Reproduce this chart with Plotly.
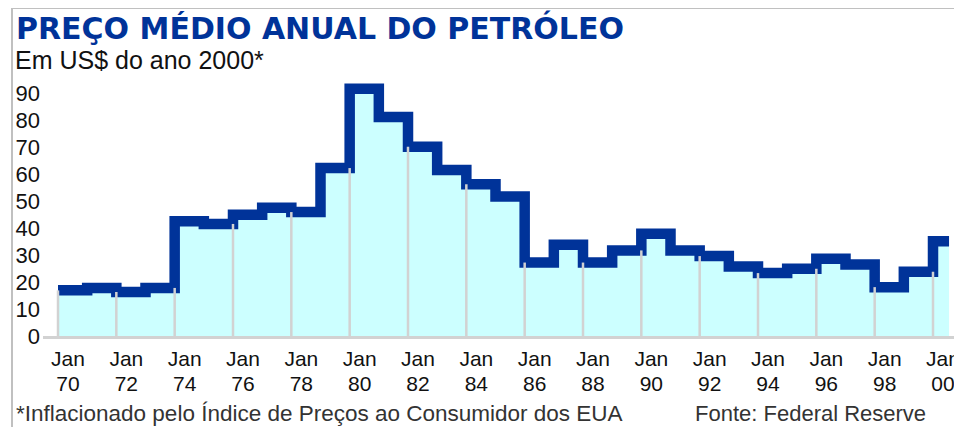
import plotly.graph_objects as go

# ---------------- data ----------------
years = list(range(1970, 2001))
prices = [16.9, 17.8, 16.3, 17.8, 42.5, 41.5, 44.9, 47.5, 45.9, 62.2,
          91.6, 81.1, 70.1, 61.5, 56.2, 51.7, 27.2, 33.8, 27.2, 31.7,
          37.9, 31.7, 29.6, 25.7, 23.3, 24.9, 28.6, 26.5, 18.1, 23.8,
          35.1]
data_end = 2000.55          # the 2000 average covers the first part of the year
tick_years = list(range(1970, 2001, 2))
tick_month = ["Jan"] * len(tick_years)
tick_yy = ["70", "72", "74", "76", "78", "80", "82", "84",
           "86", "88", "90", "92", "94", "96", "98", "00"]
y_ticks = list(range(0, 91, 10))

title = "PREÇO MÉDIO ANUAL DO PETRÓLEO"
subtitle = "Em US$ do ano 2000*"
footnote = "*Inflacionado pelo Índice de Preços ao Consumidor dos EUA"
source = "Fonte: Federal Reserve"

# ---------------- layout geometry ----------------
# the page body has an 8 px default margin; the figure is sized so that,
# placed at (8, 8), it fills the 962x427 window.
OFF = 8
WIN_W, WIN_H = 962, 427
W, H = WIN_W - OFF, WIN_H - OFF
PLOT_LEFT, PLOT_TOP, PLOT_BOTTOM = 43, 80, 336      # window pixels
L, T = PLOT_LEFT - OFF, PLOT_TOP - OFF
R = 0
B = WIN_H - PLOT_BOTTOM
PW, PH = W - L - R, H - T - B
px_per_year = 875 / 30
x_range = [1970 - 15 / px_per_year, 1970 + (PW - 15) / px_per_year]
y_range = [0, PH / 2.7]

def px2x(px):   # window pixel -> paper x
    return (px - PLOT_LEFT) / PW

def px2y(py):   # window pixel -> paper y
    return (PLOT_BOTTOM - py) / PH

BLUE = "#003399"
FILL = "#ccffff"
GRID = "#d2d2d2"
FONT = "Liberation Sans, Arial, sans-serif"

step_x = years + [data_end]
step_y = prices + [prices[-1]]

# gridlines inside the filled area
gx, gy = [], []
for yr in tick_years:
    i = yr - years[0]
    top = prices[i] if i == 0 else min(prices[i - 1], prices[i])
    gx += [yr, yr, None]
    gy += [0, top, None]

fig = go.Figure()
fig.add_trace(go.Scatter(x=step_x, y=step_y, mode="lines", line_shape="hv",
                         line=dict(width=0, color=FILL), fill="tozeroy",
                         fillcolor=FILL, hoverinfo="skip", showlegend=False))
fig.add_trace(go.Scatter(x=gx, y=gy, mode="lines", xaxis="x2",
                         line=dict(color=GRID, width=2.5),
                         hoverinfo="skip", showlegend=False))
fig.add_trace(go.Scatter(x=step_x, y=step_y, mode="lines", line_shape="hv",
                         line=dict(color=BLUE, width=10.5),
                         showlegend=False))

TICKFONT = dict(size=21, family=FONT, color="#111")

fig.update_layout(
    width=W, height=H,
    margin=dict(l=L, r=R, t=T, b=B, pad=0),
    paper_bgcolor="white", plot_bgcolor="white",
    font=dict(family=FONT, color="#111"),
    xaxis=dict(range=x_range, tickvals=tick_years, ticktext=tick_month,
               showgrid=False, zeroline=False, showline=True,
               linecolor=GRID, linewidth=3, ticks="",
               tickfont=TICKFONT, ticklabelshift=10, ticklabelstandoff=2),
    xaxis2=dict(overlaying="x", matches="x", anchor="y", side="bottom",
                tickvals=tick_years, ticktext=tick_yy,
                showgrid=False, zeroline=False, showline=False, ticks="",
                tickfont=TICKFONT, ticklabelshift=10, ticklabelstandoff=33),
    yaxis=dict(range=y_range, tickvals=y_ticks,
               showgrid=False, zeroline=False, showline=False, ticks="",
               tickfont=dict(size=22, family=FONT, color="#111"),
               ticklabelstandoff=2),
    shapes=[
        dict(type="line", xref="paper", yref="paper",
             x0=px2x(12), x1=px2x(12), y0=px2y(8), y1=px2y(WIN_H + 5),
             line=dict(color="#c0c0c0", width=2)),
        dict(type="line", xref="paper", yref="paper",
             x0=px2x(12), x1=px2x(WIN_W + 5), y0=px2y(8), y1=px2y(8),
             line=dict(color="#c0c0c0", width=2)),
    ],
    annotations=[
        dict(text="<b>%s</b>" % title, xref="paper", yref="paper",
             x=px2x(14), y=px2y(27.5), xanchor="left", yanchor="middle",
             showarrow=False,
             font=dict(family="DejaVu Sans", size=30, color=BLUE)),
        dict(text=subtitle, xref="paper", yref="paper",
             x=px2x(13), y=px2y(60), xanchor="left", yanchor="middle",
             showarrow=False, font=dict(family=FONT, size=25, color="#111")),
        dict(text=footnote, xref="paper", yref="paper",
             x=px2x(14), y=px2y(413), xanchor="left", yanchor="middle",
             showarrow=False, font=dict(family=FONT, size=22.5, color="#333")),
        dict(text=source, xref="paper", yref="paper",
             x=px2x(693), y=px2y(413), xanchor="left", yanchor="middle",
             showarrow=False, font=dict(family=FONT, size=22, color="#333")),
    ],
)

fig.write_html("out.html")
